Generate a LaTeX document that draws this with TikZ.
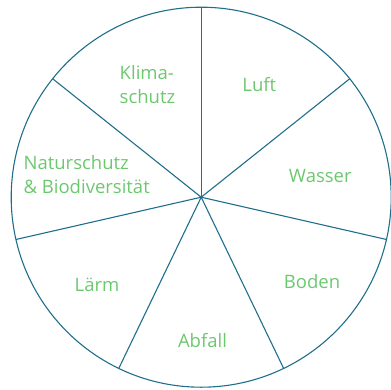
\documentclass[tikz,border=0pt]{standalone}
\usepackage{fontspec}
\setmainfont{Open Sans}
\usetikzlibrary{calc}
\definecolor{linec}{HTML}{1F6F8B}
\definecolor{textc}{HTML}{6CC86F}
\begin{document}
\begin{tikzpicture}[x=1pt,y=-1pt,
  spoke/.style={draw=linec,line width=1.1pt},
  lbl/.style={text=textc,font=\fontsize{18.5}{24}\selectfont,inner sep=0pt},
  lbll/.style={lbl,align=left}]
\useasboundingbox (0,0) rectangle (391,389);
\coordinate (c) at (201.2,197.2);
\foreach \k in {0,...,6}{
  \coordinate (e\k) at ($(c)+({\k*360/7-90}:190)$);
}
\draw[spoke] (c) circle[radius=190];
\foreach \k in {0,...,6}{
  \draw[spoke] (c) -- (e\k);
}
\node[lbll] (klima) at (147.5,84.7) {Klima-\\schutz};
\node[lbl] (luft) at (259.3,85) {Luft};
\node[lbl] (wasser) at (320.3,176) {Wasser};
\node[lbl] (boden) at (312,281.7) {Boden};
\node[lbl] (abfall) at (202.5,340.7) {Abfall};
\node[lbl] (laerm) at (97,285) {Lärm};
\node[lbll] (natur) at (86.7,174.5) {Naturschutz\\\& Biodiversität};
\end{tikzpicture}
\end{document}
